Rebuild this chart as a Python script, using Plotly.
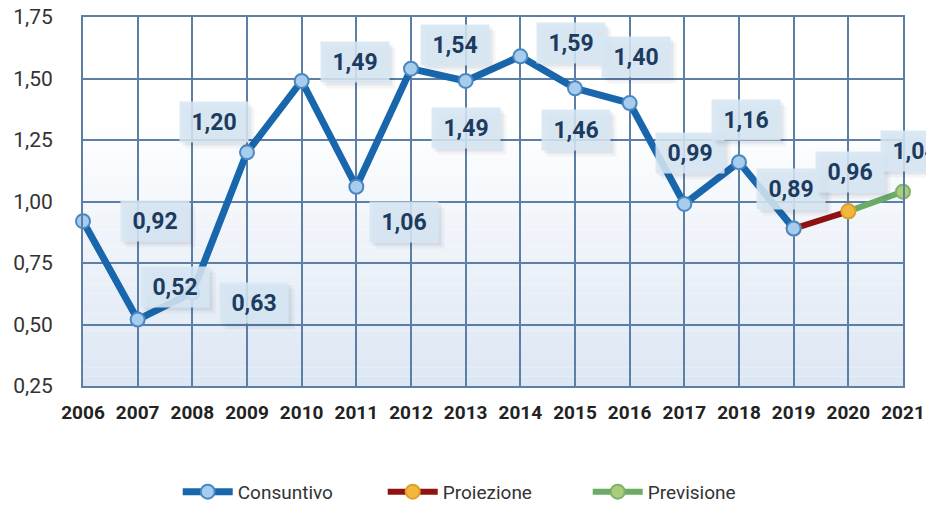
import plotly.graph_objects as go

# Yearly values (2006-2019 actual, 2020 projection, 2021 forecast)
years = list(range(2006, 2022))
values = [0.92, 0.52, 0.63, 1.20, 1.49, 1.06, 1.54, 1.49, 1.59, 1.46, 1.40,
          0.99, 1.16, 0.89, 0.96, 1.04]
series_names = ["Consuntivo", "Proiezione", "Previsione"]
y_ticks = [0.25, 0.50, 0.75, 1.00, 1.25, 1.50, 1.75]

# Pixel offsets of each value box relative to its point
label_dx = [72, 37, 62, -33, 53, 48, 44, 0, 51, 1, 6, 6, 7, -3, 2, 12]
label_dy = [0, 33, -10, 30, 19, -35, 24, -47, 13, -42, 46, 51, 42, 40, 39, 41]

FONT = "Roboto, 'DejaVu Sans Condensed', sans-serif"
GRID = "#5d7ea5"

i_last_actual = years.index(2019)
i_proj = years.index(2020)

fig = go.Figure()

# Forecast segment (drawn first so the later markers sit on top)
fig.add_trace(go.Scatter(
    x=years[i_proj:], y=values[i_proj:], name=series_names[2],
    mode="lines+markers", cliponaxis=False,
    line=dict(color="#6aab66", width=6),
    marker=dict(size=14, color="#a9cd7a", line=dict(color="#7fb168", width=2)),
))
# Projection segment
fig.add_trace(go.Scatter(
    x=years[i_last_actual:i_proj + 1], y=values[i_last_actual:i_proj + 1],
    name=series_names[1], mode="lines+markers", cliponaxis=False,
    line=dict(color="#8e1212", width=6),
    marker=dict(size=14, color="#f4b73c", line=dict(color="#e0a02a", width=2)),
))
# Actual values
fig.add_trace(go.Scatter(
    x=years[:i_last_actual + 1], y=values[:i_last_actual + 1],
    name=series_names[0], mode="lines+markers", cliponaxis=False,
    line=dict(color="#1866ab", width=7),
    marker=dict(size=14, color="#a7cdee", line=dict(color="#4a86c0", width=2)),
))

# Value boxes with a soft drop shadow
annotations = []
for x, v, dx, dy in zip(years, values, label_dx, label_dy):
    txt = f"{v:.2f}".replace(".", ",")
    for k, a in ((6, 0.05), (3, 0.08)):
        annotations.append(dict(
            x=x, y=v, xref="x", yref="y", text=" ", showarrow=False,
            xshift=dx + k, yshift=dy - k, width=60, height=32, borderpad=4,
            bgcolor=f"rgba(40,60,90,{a})", font=dict(size=23, family=FONT),
        ))
    annotations.append(dict(
        x=x, y=v, xref="x", yref="y", text=f"<b>{txt}</b>", showarrow=False,
        xshift=dx, yshift=dy, width=60, height=32, borderpad=4,
        bgcolor="rgba(214,230,243,0.88)",
        font=dict(color="#1c3b5f", size=23, family=FONT),
    ))

# Plot background: white at the top fading to pale blue at the bottom
shapes = []
n = 40
for i in range(n):
    y0 = i / n
    y1 = (i + 1) / n
    t = max(0.0, min(1.0, (0.72 - (y0 + y1) / 2) / 0.72))
    r = round(255 - t * (255 - 220))
    g = round(255 - t * (255 - 230))
    b = round(255 - t * (255 - 243))
    shapes.append(dict(type="rect", xref="paper", yref="paper", x0=0, x1=1,
                       y0=y0, y1=y1, fillcolor=f"rgb({r},{g},{b})",
                       line=dict(width=0), layer="below"))

fig.update_layout(
    width=926, height=506,
    margin=dict(l=83, r=23, t=17, b=120, autoexpand=False),
    paper_bgcolor="white", plot_bgcolor="white",
    separators=",.",
    font=dict(family=FONT, color="#2a2a2a"),
    shapes=shapes, annotations=annotations,
    showlegend=True,
    legend=dict(orientation="h", traceorder="reversed",
                x=0.524, xanchor="center", xref="container",
                y=0.028, yanchor="middle", yref="container",
                font=dict(size=19, color="#333333", family=FONT),
                itemwidth=50, entrywidth=140, entrywidthmode="pixels",
                tracegroupgap=0),
)

fig.update_xaxes(
    range=[2006, 2021], tickmode="array", tickvals=years,
    ticktext=[f"<b>{y}</b>" for y in years],
    tickfont=dict(size=19, color="#222222", family=FONT),
    ticks="outside", ticklen=8, tickcolor="rgba(0,0,0,0)",
    showgrid=True, gridcolor=GRID, gridwidth=2,
    showline=True, linecolor=GRID, linewidth=2, mirror=True,
    zeroline=False, fixedrange=True, automargin=False,
)
fig.update_yaxes(
    range=[0.25, 1.75], tickmode="array", tickvals=y_ticks,
    tickformat=".2f", tickfont=dict(size=21, color="#333333", family=FONT),
    ticks="outside", ticklen=24, tickcolor="rgba(0,0,0,0)",
    showgrid=True, gridcolor=GRID, gridwidth=2,
    showline=True, linecolor=GRID, linewidth=2, mirror=True,
    zeroline=False, fixedrange=True, automargin=False,
)

fig.write_html("out.html")
